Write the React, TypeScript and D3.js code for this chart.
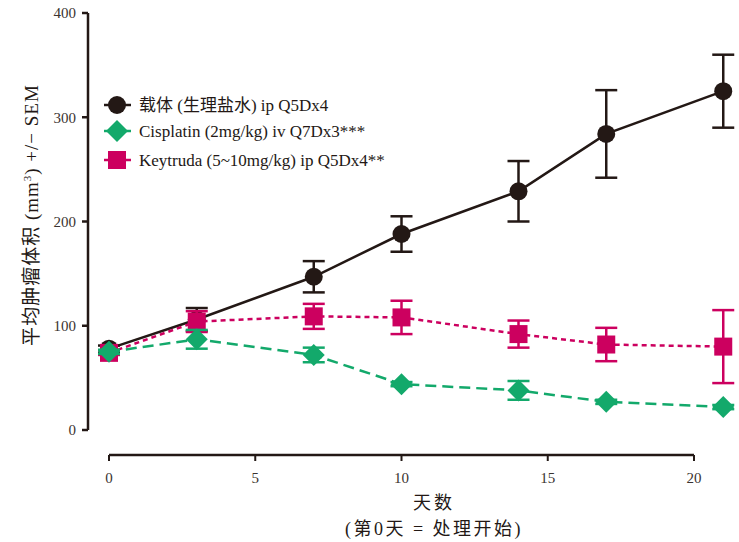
import { useEffect, useRef } from 'react';
import * as d3 from 'd3';

const days = [0, 3, 7, 10, 14, 17, 21];
const vehicleMean = [78, 106, 147, 188, 229, 284, 325];
const vehicleSem = [3, 11, 15, 17, 29, 42, 35];
const cisplatinMean = [75, 87, 72, 44, 38, 27, 22];
const cisplatinSem = [2, 9, 7, 2, 9, 2, 2];
const keytrudaMean = [74, 104, 109, 108, 92, 82, 80];
const keytrudaSem = [2, 10, 12, 16, 13, 16, 35];
const seriesNames = [
  '载体 (生理盐水) ip Q5Dx4',
  'Cisplatin (2mg/kg) iv Q7Dx3***',
  'Keytruda (5~10mg/kg) ip Q5Dx4**',
];
const xTicks = [0, 5, 10, 15, 20];
const yTicks = [0, 100, 200, 300, 400];

const FONT = '"Liberation Serif", "DejaVu Serif", "Noto Sans CJK SC", serif';
const INK = '#231815';

export default function App() {
  const svgRef = useRef<SVGSVGElement>(null);
  const width = 739;
  const height = 542;

  useEffect(() => {
    if (!svgRef.current) return;
    const svg = d3.select(svgRef.current);
    svg.selectAll('*').remove();

    const x = d3.scaleLinear().domain([0, 20]).range([109, 694]);
    const y = d3.scaleLinear().domain([0, 400]).range([430, 13]);

    // y axis
    const yAxis = svg.append('g');
    yAxis.append('line')
      .attr('x1', 88).attr('x2', 88)
      .attr('y1', y(400)).attr('y2', y(0))
      .attr('stroke', INK).attr('stroke-width', 2.5);
    yTicks.forEach(t => {
      yAxis.append('line')
        .attr('x1', 82).attr('x2', 88)
        .attr('y1', y(t)).attr('y2', y(t))
        .attr('stroke', INK).attr('stroke-width', 2.5);
      yAxis.append('text')
        .attr('x', 76).attr('y', y(t)).attr('dy', '0.35em')
        .attr('text-anchor', 'end')
        .attr('font-size', 15).attr('fill', '#3a3330')
        .style('font-family', FONT)
        .text(t);
    });

    // x axis
    const xAxis = svg.append('g');
    xAxis.append('line')
      .attr('x1', x(0)).attr('x2', x(20))
      .attr('y1', 455).attr('y2', 455)
      .attr('stroke', INK).attr('stroke-width', 2.5);
    xTicks.forEach(t => {
      xAxis.append('line')
        .attr('x1', x(t)).attr('x2', x(t))
        .attr('y1', 455).attr('y2', 461)
        .attr('stroke', INK).attr('stroke-width', 2);
      xAxis.append('text')
        .attr('x', x(t)).attr('y', 483)
        .attr('text-anchor', 'middle')
        .attr('font-size', 15).attr('fill', '#3a3330')
        .style('font-family', FONT)
        .text(t);
    });

    // axis titles
    svg.append('text')
      .attr('x', 434).attr('y', 509)
      .attr('text-anchor', 'middle')
      .attr('font-size', 18).attr('fill', INK)
      .attr('letter-spacing', 3)
      .style('font-family', FONT)
      .text('天数');
    svg.append('text')
      .attr('x', 434).attr('y', 535)
      .attr('text-anchor', 'middle')
      .attr('font-size', 18).attr('fill', INK)
      .attr('letter-spacing', 2.5)
      .style('font-family', FONT)
      .text('(第0天 = 处理开始)');
    const yTitle = svg.append('text')
      .attr('transform', 'translate(38, 215) rotate(-90)')
      .attr('text-anchor', 'middle')
      .attr('font-size', 19).attr('fill', INK)
      .attr('letter-spacing', 1)
      .style('font-family', FONT);
    yTitle.append('tspan').text('平均肿瘤体积 (mm');
    yTitle.append('tspan').attr('font-size', 11).attr('dy', -7).text('3');
    yTitle.append('tspan').attr('dy', 7).text(') +/− SEM');

    const series = [
      { mean: vehicleMean, sem: vehicleSem, color: INK, dash: null, shape: 'circle' },
      { mean: keytrudaMean, sem: keytrudaSem, color: '#cc005f', dash: '5,4', shape: 'square' },
      { mean: cisplatinMean, sem: cisplatinSem, color: '#13a96b', dash: '11,6', shape: 'diamond' },
    ];

    const drawMarker = (g: any, shape: string, cx: number, cy: number, color: string) => {
      if (shape === 'circle') {
        g.append('circle').attr('cx', cx).attr('cy', cy).attr('r', 9).attr('fill', color);
      } else if (shape === 'square') {
        g.append('rect').attr('x', cx - 9).attr('y', cy - 9).attr('width', 18).attr('height', 18).attr('fill', color);
      } else {
        g.append('path')
          .attr('d', `M${cx},${cy - 11}L${cx + 11},${cy}L${cx},${cy + 11}L${cx - 11},${cy}Z`)
          .attr('fill', color);
      }
    };

    const line = d3.line<number>()
      .x((_, i) => x(days[i]))
      .y(d => y(d));

    series.forEach(s => {
      const g = svg.append('g');
      // error bars
      days.forEach((d, i) => {
        const cx = x(d);
        const top = y(s.mean[i] + s.sem[i]);
        const bot = y(s.mean[i] - s.sem[i]);
        g.append('line').attr('x1', cx).attr('x2', cx).attr('y1', top).attr('y2', bot)
          .attr('stroke', s.color).attr('stroke-width', 2.5);
        [top, bot].forEach(v => {
          g.append('line').attr('x1', cx - 11).attr('x2', cx + 11).attr('y1', v).attr('y2', v)
            .attr('stroke', s.color).attr('stroke-width', 2.5);
        });
      });
      g.append('path')
        .attr('d', line(s.mean))
        .attr('fill', 'none')
        .attr('stroke', s.color)
        .attr('stroke-width', 2.5)
        .attr('stroke-dasharray', s.dash);
      days.forEach((d, i) => drawMarker(g, s.shape, x(d), y(s.mean[i]), s.color));
    });

    // legend
    const legendOrder = [
      { color: INK, shape: 'circle' },
      { color: '#13a96b', shape: 'diamond' },
      { color: '#cc005f', shape: 'square' },
    ];
    const legendY = [105, 131, 160];
    legendOrder.forEach((l, i) => {
      const g = svg.append('g');
      g.append('line').attr('x1', 104).attr('x2', 131).attr('y1', legendY[i]).attr('y2', legendY[i])
        .attr('stroke', l.color).attr('stroke-width', 2.5);
      drawMarker(g, l.shape, 117, legendY[i], l.color);
      g.append('text')
        .attr('x', 139).attr('y', legendY[i]).attr('dy', '0.35em')
        .attr('font-size', 17).attr('fill', INK)
        .style('font-family', FONT)
        .text(seriesNames[i]);
    });
  }, []);

  return (
    <svg ref={svgRef} width={width} height={height}
      style={{ position: 'absolute', left: 0, top: 0, background: '#fff' }} />
  );
}
